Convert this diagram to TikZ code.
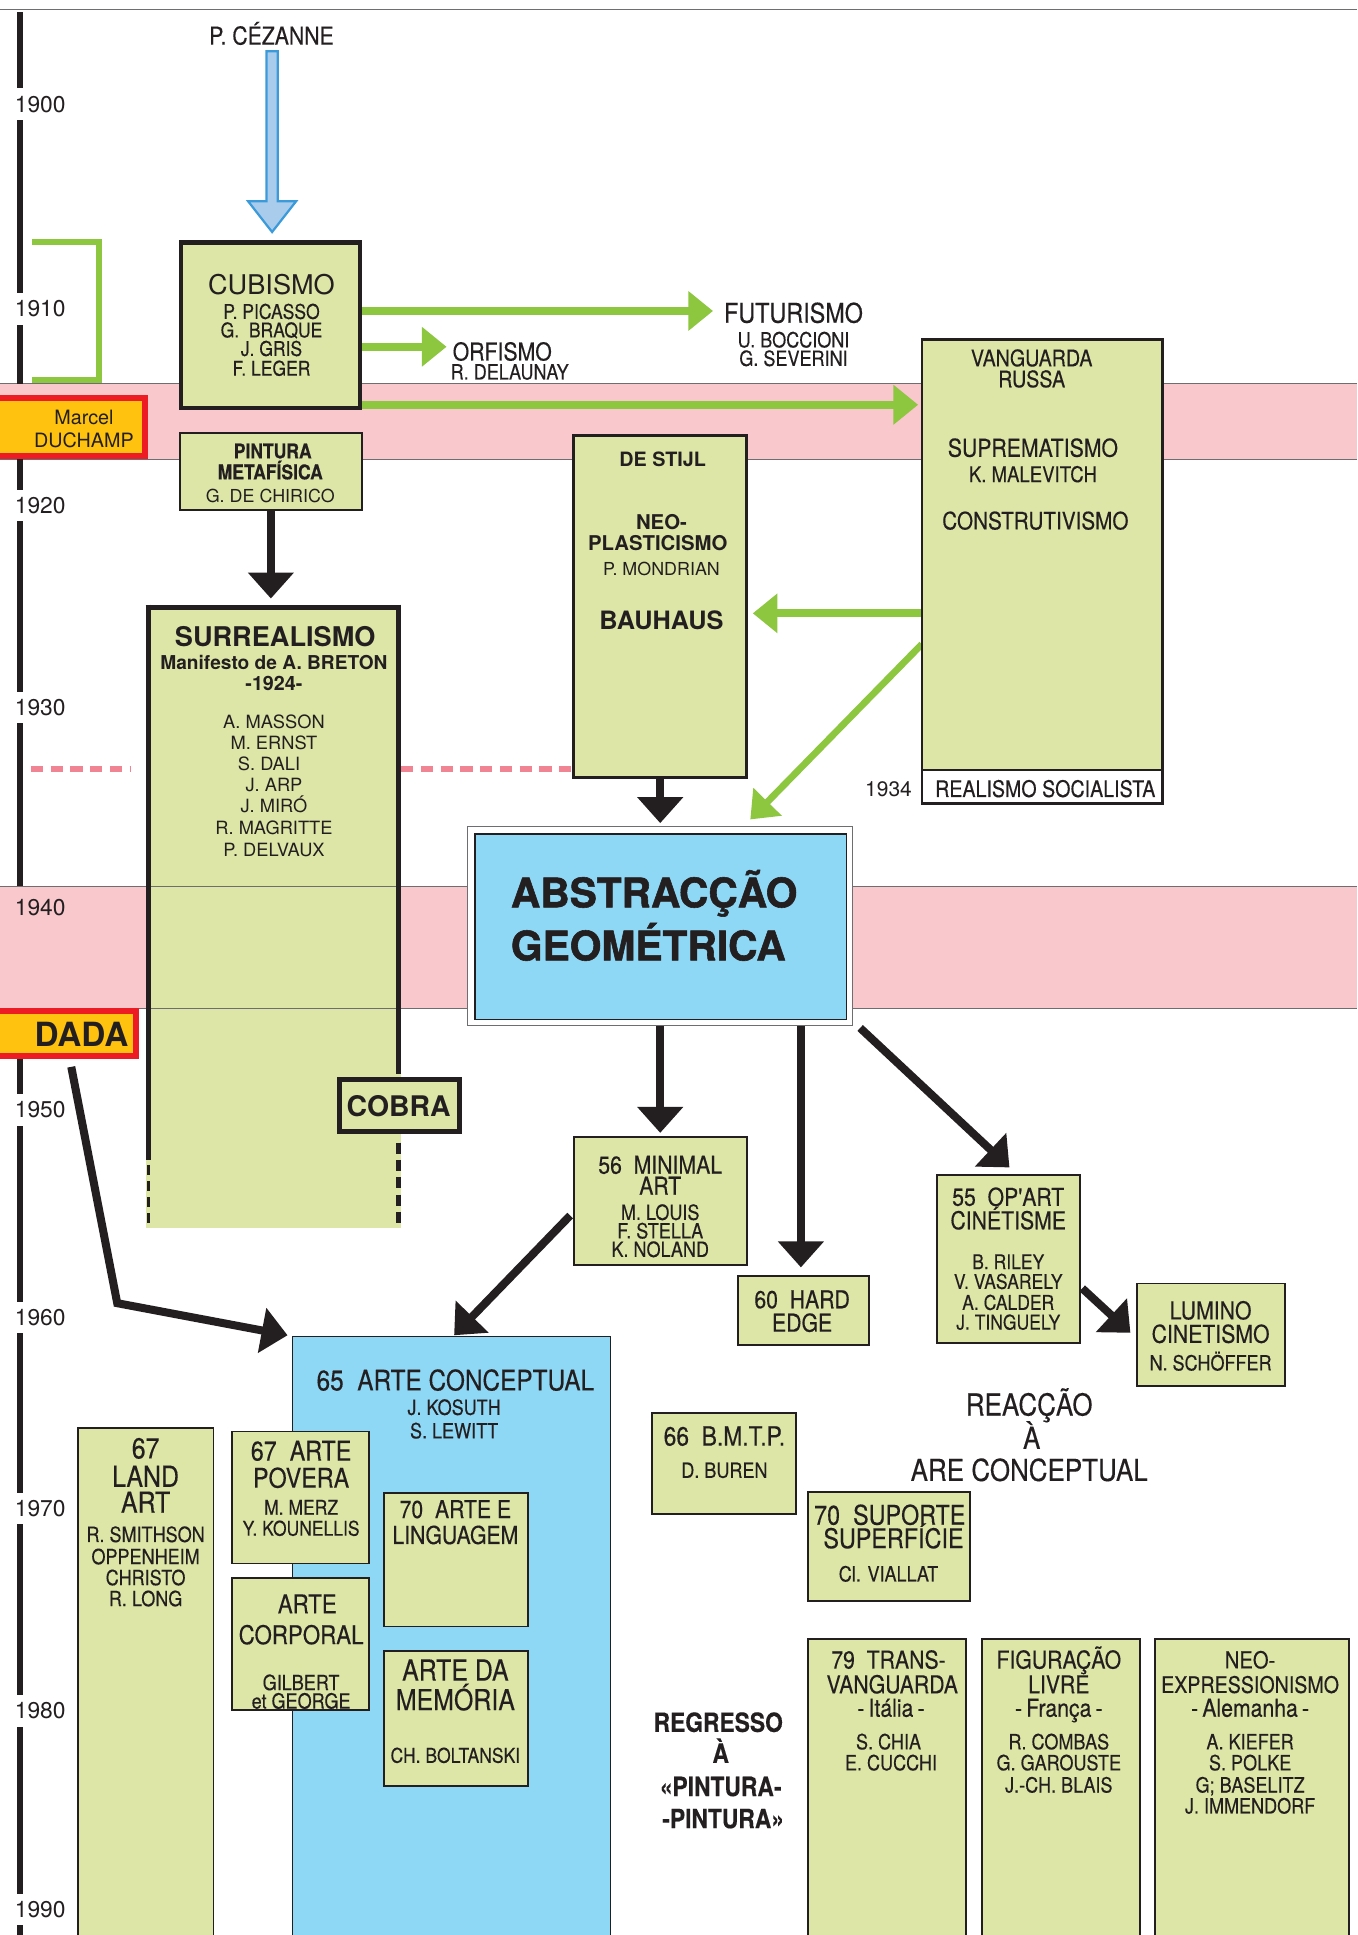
\documentclass[tikz,border=0pt]{standalone}
\usepackage{fontspec}
\setmainfont{TeX Gyre Heros}
\newfontfamily\cnd[FakeStretch=0.86, FakeBold=0.3]{TeX Gyre Heros}
\newfontfamily\blk[BoldFeatures={FakeBold=1.4}]{TeX Gyre Heros}
\usetikzlibrary{arrows.meta,calc,fit}

\definecolor{ink}{RGB}{35,31,32}
\definecolor{pale}{RGB}{221,230,166}
\definecolor{sky}{RGB}{142,216,246}
\definecolor{band}{RGB}{249,200,204}
\definecolor{leaf}{RGB}{141,198,63}
\definecolor{rose}{RGB}{240,132,146}
\definecolor{amber}{RGB}{255,194,14}
\definecolor{signal}{RGB}{237,28,36}
\definecolor{icefill}{RGB}{169,204,236}
\definecolor{iceline}{RGB}{59,155,218}
\definecolor{rule}{RGB}{110,110,113}

\newcommand\fRg[1]{\normalfont\fontsize{#1}{#1}\selectfont}
\newcommand\fRb[1]{\normalfont\bfseries\fontsize{#1}{#1}\selectfont}
\newcommand\fCn[1]{\cnd\fontsize{#1}{#1}\selectfont}
\newcommand\fCb[1]{\cnd\bfseries\fontsize{#1}{#1}\selectfont}
\newcommand\fBk[1]{\blk\bfseries\fontsize{#1}{#1}\selectfont}

\pgfdeclarelayer{bg}
\pgfdeclarelayer{conn}
\pgfsetlayers{bg,conn,main}

\tikzset{
  panel/.style={draw=ink, line width=1.5pt, fill=pale, inner sep=0pt, outer sep=0pt},
  heavy/.style={panel, line width=3.5pt},
  skybox/.style={panel, fill=sky, line width=1.2pt},
  txt/.style={inner sep=0pt, outer sep=0pt, text=ink, anchor=mid},
  ftc/.style={txt, font={\fCn{#1}}, yshift={-0.2*#1}},
  ftcb/.style={txt, font={\fCb{#1}}, yshift={-0.2*#1}},
  ftr/.style={txt, font={\fRg{#1}}, yshift={-0.2*#1}},
  ftrb/.style={txt, font={\fRb{#1}}, yshift={-0.2*#1}},
  ftk/.style={txt, font={\fBk{#1}}, yshift={-0.2*#1}},
  year/.style={ftr=18.5, anchor=mid west, fill=white, inner xsep=1pt, inner ysep=6pt},
  garrow/.style={draw=leaf, line width=6.5pt, -{Triangle[length=20pt,width=31pt]}},
  karrow/.style={draw=ink, line width=6.5pt, -{Triangle[length=21pt,width=36pt]}},
  redbox/.style={draw=signal, fill=amber, line width=5pt, inner sep=0pt, outer sep=0pt},
}

\begin{document}
\begin{tikzpicture}[x=1pt, y=-1pt, line join=miter]
\useasboundingbox (0,0) rectangle (1100,1568);

% ---------- boxes ----------
\node[heavy, fit={(146.5,196.5) (291.5,330.5)}] (cub) {};
\node[panel, fit={(146,351) (293,413)}] (pint) {};
\node[panel, line width=2pt, fit={(747,275) (942,624)}] (vang) {};
\node[panel, line width=2pt, fill=white, fit={(747,624) (942,651)}] (real) {};
\node[panel, line width=2.5pt, fit={(465,353) (605,630)}] (stijl) {};
\node[inner sep=0pt, outer sep=0pt, fit={(118,490) (325,995)}] (surr) {};
\node[heavy, line width=4pt, fit={(275,875) (372,917)}] (cobra) {};
\node[panel, fill=white, draw=rule, line width=0.8pt, fit={(379,670) (691,831)}] (absout) {};
\node[skybox, fit={(385,676) (686,826)}] (absin) {};
\node[panel, fit={(465,921) (605,1025)}] (minimal) {};
\node[panel, fit={(598,1034) (704,1090)}] (hard) {};
\node[panel, fit={(759,952) (875,1088)}] (opart) {};
\node[panel, fit={(921,1040) (1041,1123)}] (lumino) {};
\node[skybox, line width=1pt, fit={(237,1083) (495,1580)}] (artecon) {};
\node[panel, fit={(63,1157) (173,1580)}] (land) {};
\node[panel, fit={(188,1160) (299,1267)}] (povera) {};
\node[panel, fit={(188,1279) (299,1386)}] (corporal) {};
\node[panel, fit={(311,1210) (428,1318)}] (lingua) {};
\node[panel, fit={(311,1338) (428,1447)}] (memoria) {};
\node[panel, fit={(528,1145) (645,1227)}] (bmtp) {};
\node[panel, fit={(655,1209) (786,1297)}] (suporte) {};
\node[panel, fit={(655,1328) (783,1580)}] (trans) {};
\node[panel, fit={(796,1328) (924,1580)}] (figur) {};
\node[panel, fit={(936,1328) (1093,1580)}] (neoexp) {};
\node[redbox, fit={(-3,322.5) (117.5,369.5)}] (duch) {};
\node[redbox, fit={(-3,819.5) (110.5,855.5)}] (dada) {};

% ---------- background: bands, timeline, surrealism column ----------
\begin{pgfonlayer}{bg}
  \fill[white] (0,0) rectangle (1100,1568);
  \draw[rule, line width=0.8pt] (0,8) -- (1100,8);
  \fill[band] (0,311) rectangle (1100,372);
  \fill[band] (0,718) rectangle (1100,817);
  \fill[pale] (surr.north west) rectangle (surr.south east);
  \foreach \yy in {311,372,718,817}
    \draw[rule, line width=0.8pt] (0,\yy) -- (1100,\yy);
  % timeline bar
  \draw[ink, line width=5pt] (16.5,10) -- (16.5,311);
  \draw[ink, line width=5pt] (16.5,372) -- (16.5,718);
  \draw[ink, line width=5pt] (16.5,858) -- (16.5,1568);
  % bracket of the cubist decade
  \draw[leaf, line width=5pt] (26,196) -- (80.5,196) -- (80.5,308) -- (26,308);
  % dashed 1934 line
  \draw[rose, line width=5pt, dash pattern=on 10pt off 6pt] (25,623) -- ($(surr.west |- 0,623)+(-12,0)$);
  \draw[rose, line width=5pt, dash pattern=on 10pt off 6pt] (surr.east |- 0,623) -- (stijl.west |- 0,623);
  % surrealism column borders
  \draw[ink, line width=4pt] (118,492) -- (325,492);
  \draw[ink, line width=4pt] (120,490) -- (120,940);
  \draw[ink, line width=2.5pt, dash pattern=on 8pt off 5pt] (120,944) -- (120,995);
  \draw[ink, line width=4pt] (323,490) -- (323,870);
  \draw[ink, line width=4pt, dash pattern=on 9pt off 5pt] (323,926) -- (323,995);
\end{pgfonlayer}

% ---------- years ----------
\node[year] (y1900) at (11,84.5) {1900};
\node[year] (y1910) at (11,250.5) {1910};
\node[year] (y1920) at (11,409.5) {1920};
\node[year] (y1930) at (11,573.5) {1930};
\node[year, fill=none] (y1940) at (11,735.5) {1940};
\node[year] (y1950) at (11,899.5) {1950};
\node[year] (y1960) at (11,1067.5) {1960};
\node[year] (y1970) at (11,1222.5) {1970};
\node[year] (y1980) at (11,1386.5) {1980};
\node[year] (y1990) at (11,1547.5) {1990};

% ---------- texts ----------
\node[ftc=20] (cez) at (220,29.5) {P. CÉZANNE};

\node[ftr=22] (cubA) at (220,231.5) {CUBISMO};
\node[ftc=16.5] (cubB) at (220,252.5) {P. PICASSO};
\node[ftc=16.5] (cubC) at (220,267.5) {G.\ \ BRAQUE};
\node[ftc=16.5] (cubD) at (220,282.5) {J. GRIS};
\node[ftc=16.5] (cubE) at (220,298.5) {F. LEGER};

\node[ftc=22] (fut) at (643,254.5) {FUTURISMO};
\node[ftc=17] (futB) at (643,275.5) {U. BOCCIONI};
\node[ftc=17] (futC) at (643,290.5) {G. SEVERINI};

\node[ftc=20] (orf) at (407,285.5) {ORFISMO};
\node[ftc=17] (orfB) at (413,301.5) {R. DELAUNAY};

\node[ftc=18.5] (vangA) at (836,290.5) {VANGUARDA};
\node[ftc=18.5] (vangB) at (836,307.5) {RUSSA};
\node[ftc=20] (vangC) at (837,363.5) {SUPREMATISMO};
\node[ftc=17.5] (vangD) at (837,384.5) {K. MALEVITCH};
\node[ftc=19.5] (vangE) at (839,422.5) {CONSTRUTIVISMO};
\node[ftc=18.5] (realA) at (847,639.5) {REALISMO SOCIALISTA};
\node[ftr=17] (y1934) at (720,639.5) {1934};

\node[ftr=16] (duchA) at (68,338.5) {Marcel};
\node[ftr=16] (duchB) at (68,356.5) {DUCHAMP};
\node[ftrb=27] (dadaA) at (66,840) {DADA};

\node[ftcb=16.5] (pintA) at (221,365.5) {PINTURA};
\node[ftcb=16.5] (pintB) at (219,382.5) {METAFÍSICA};
\node[ftr=14.5] (pintC) at (219,401.5) {G. DE CHIRICO};

\node[ftrb=22] (surrA) at (223,516.5) {SURREALISMO};
\node[ftrb=15.5] (surrB) at (222,536.5) {Manifesto de A. BRETON};
\node[ftrb=16] (surrC) at (222,553.5) {-1924-};
\node[ftr=14.8] (surrD) at (222,584.5) {A. MASSON};
\node[ftr=14.8] (surrE) at (222,601.5) {M. ERNST};
\node[ftr=14.8] (surrF) at (218,619) {S. DALI};
\node[ftr=14.8] (surrG) at (222,636) {J. ARP};
\node[ftr=14.8] (surrH) at (222,652.5) {J. MIRÓ};
\node[ftr=14.8] (surrI) at (222,670.5) {R. MAGRITTE};
\node[ftr=14.8] (surrJ) at (222,688.5) {P. DELVAUX};
\node[ftrb=23] (cobraA) at (323,897.5) {COBRA};

\node[ftrb=16] (stijlA) at (537,372.5) {DE STIJL};
\node[ftrb=16.5] (stijlB) at (536,423.5) {NEO-};
\node[ftrb=16.5] (stijlC) at (533,440.5) {PLASTICISMO};
\node[ftr=14.5] (stijlD) at (536,460.5) {P. MONDRIAN};
\node[ftrb=20.5] (stijlE) at (536,503.5) {BAUHAUS};

\node[ftk=33, anchor=mid west] (absA) at (414,726) {ABSTRACÇÃO};
\node[ftk=33, anchor=mid west] (absB) at (414,769) {GEOMÉTRICA};

\node[ftc=20] (minA) at (535,944.5) {56\ \ MINIMAL};
\node[ftc=20] (minB) at (535,961.5) {ART};
\node[ftc=17] (minC) at (535,982.5) {M. LOUIS};
\node[ftc=17] (minD) at (535,997.5) {F. STELLA};
\node[ftc=17] (minE) at (535,1012.5) {K. NOLAND};

\node[ftc=20] (hardA) at (650,1053.5) {60\ \ HARD};
\node[ftc=20] (hardB) at (650,1072.5) {EDGE};

\node[ftc=20] (opA) at (817,970.5) {55\ \ OP'ART};
\node[ftc=20] (opB) at (817,989.5) {CINÉTISME};
\node[ftc=16.5] (opC) at (817,1022.5) {B. RILEY};
\node[ftc=16.5] (opD) at (817,1038.5) {V. VASARELY};
\node[ftc=16.5] (opE) at (817,1055.5) {A. CALDER};
\node[ftc=16.5] (opF) at (817,1071.5) {J. TINGUELY};

\node[ftc=20] (lumA) at (981,1062.5) {LUMINO};
\node[ftc=20] (lumB) at (981,1081.5) {CINETISMO};
\node[ftc=17] (lumC) at (981,1104.5) {N. SCHÖFFER};

\node[ftc=23] (acA) at (369,1119.5) {65\ \ ARTE CONCEPTUAL};
\node[ftc=17] (acB) at (368,1140.5) {J. KOSUTH};
\node[ftc=17] (acC) at (368,1159.5) {S. LEWITT};

\node[ftc=23.5] (landA) at (118,1174.5) {67};
\node[ftc=23.5] (landB) at (118,1197.5) {LAND};
\node[ftc=23.5] (landC) at (118,1218.5) {ART};
\node[ftc=17] (landD) at (118,1243.5) {R. SMITHSON};
\node[ftc=17] (landE) at (118,1261.5) {OPPENHEIM};
\node[ftc=17] (landF) at (118,1278.5) {CHRISTO};
\node[ftc=17] (landG) at (118,1295.5) {R. LONG};

\node[ftc=22] (povA) at (244,1176.5) {67\ \ ARTE};
\node[ftc=22] (povB) at (244,1198.5) {POVERA};
\node[ftc=16.5] (povC) at (244,1221.5) {M. MERZ};
\node[ftc=16.5] (povD) at (244,1238.5) {Y. KOUNELLIS};

\node[ftc=21] (corA) at (249,1300.5) {ARTE};
\node[ftc=21] (corB) at (244,1325.5) {CORPORAL};
\node[ftc=17] (corC) at (244,1363.5) {GILBERT};
\node[ftc=17] (corD) at (244,1378.5) {et GEORGE};

\node[ftc=20] (linA) at (369,1223.5) {70\ \ ARTE E};
\node[ftc=20] (linB) at (369,1244.5) {LINGUAGEM};

\node[ftc=23.5] (memA) at (369,1354.5) {ARTE DA};
\node[ftc=23.5] (memB) at (369,1378.5) {MEMÓRIA};
\node[ftc=16.5] (memC) at (369,1422.5) {CH. BOLTANSKI};

\node[ftc=21.5] (bmtpA) at (587,1164.5) {66\ \ B.M.T.P.};
\node[ftc=17] (bmtpB) at (587,1191.5) {D. BUREN};

\node[ftc=22] (supA) at (721,1228.5) {70\ \ SUPORTE};
\node[ftc=22] (supB) at (724,1247.5) {SUPERFÍCIE};
\node[ftc=17] (supC) at (720,1275.5) {Cl. VIALLAT};

\node[ftc=24.5] (reaA) at (834,1139.5) {REACÇÃO};
\node[ftc=24.5] (reaB) at (836,1166.5) {À};
\node[ftc=24.5] (reaC) at (834,1192.5) {ARE CONCEPTUAL};

\node[ftcb=21.5] (regA) at (582,1396.5) {REGRESSO};
\node[ftcb=21.5] (regB) at (584,1421.5) {À};
\node[ftcb=21.5] (regC) at (584,1448.5) {«PINTURA-};
\node[ftcb=21.5] (regD) at (586,1474.5) {-PINTURA»};

\node[ftc=20] (traA) at (720,1345.5) {79\ \ TRANS-};
\node[ftc=20] (traB) at (723,1365.5) {VANGUARDA};
\node[ftc=20] (traC) at (722,1384.5) {-\,Itália\,-};
\node[ftc=17] (traD) at (720,1411.5) {S. CHIA};
\node[ftc=17] (traE) at (722,1428.5) {E. CUCCHI};

\node[ftc=20] (figA) at (858,1345.5) {FIGURAÇÃO};
\node[ftc=20] (figB) at (858,1365.5) {LIVRE};
\node[ftc=20] (figC) at (858,1384.5) {-\,França\,-};
\node[ftc=17] (figD) at (858,1411.5) {R. COMBAS};
\node[ftc=17] (figE) at (858,1428.5) {G. GAROUSTE};
\node[ftc=17] (figF) at (858,1446.5) {J.-CH. BLAIS};

\node[ftc=19] (neoA) at (1013,1345.5) {NEO-};
\node[ftc=18.5] (neoB) at (1013,1365.5) {EXPRESSIONISMO};
\node[ftc=20] (neoC) at (1013,1384.5) {-\,Alemanha\,-};
\node[ftc=17] (neoD) at (1013,1411.5) {A. KIEFER};
\node[ftc=17] (neoE) at (1013,1428.5) {S. POLKE};
\node[ftc=17] (neoF) at (1013,1446.5) {G; BASELITZ};
\node[ftc=17] (neoG) at (1013,1463.5) {J. IMMENDORF};

% ---------- connectors ----------
\begin{pgfonlayer}{conn}
  % Cezanne's influence on cubism
  \coordinate (cezT) at ($(cub.north)+(1.5,-8.5)$);
  \coordinate (cezS) at ($(cez.south)+(0.5,5)$);
  \filldraw[fill=icefill, draw=iceline, line width=1.8pt]
    ($(cezS)+(-4.5,0)$) -- ($(cezS)+(4.5,0)$) -- ($(cezT)+(4.5,-25)$) -- ($(cezT)+(19.5,-25)$)
    -- (cezT) -- ($(cezT)+(-19.5,-25)$) -- ($(cezT)+(-4.5,-25)$) -- cycle;
  % green influence arrows
  \draw[garrow, shorten >=9pt] (cub.east |- 0,252) -- (fut.west |- 0,252);
  \draw[garrow, shorten >=5pt] (cub.east |- 0,281) -- (orf.west |- 0,281);
  \draw[garrow, shorten >=3pt] (cub.east |- 0,328) -- (vang.west |- 0,328);
  \draw[garrow, shorten >=5pt] (vang.west |- 0,497) -- (stijl.east |- 0,497);
  \draw[garrow, line width=5.5pt] (vang.west |- 0,522) -- ($(absout.north)+(73,-6)$);
  % black descent arrows
  \draw[karrow] (pint.south) -- (pint.south |- 0,485);
  \draw[karrow] (stijl.south) -- (stijl.south |- 0,667);
  \draw[karrow, shorten >=3pt] (absout.south -| minimal.north) -- (minimal.north);
  \draw[karrow, shorten >=7pt] (absout.south -| 649,0) -- (hard.north -| 649,0);
  \draw[karrow] ($(absout.south east)+(6,2)$) -- ($(opart.north)+(1,-6)$);
  \draw[karrow] ($(minimal.west)+(-3,12)$) -- ($(artecon.north)+(2,-1)$);
  \draw[karrow] ($(opart.east)+(2,24)$) -- ($(lumino.west)+(-5,-1.5)$);
  \coordinate (dadaBend) at (95,1056);
  \draw[karrow] ($(dada.south)+(4,9)$) -- (dadaBend) -- ($(artecon.north west)+(-4,-1)$);
\end{pgfonlayer}
\end{tikzpicture}
\end{document}
